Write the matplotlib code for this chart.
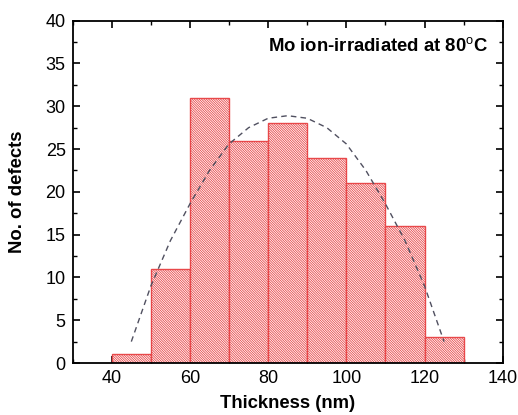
import matplotlib
matplotlib.use("Agg")
import matplotlib.pyplot as plt
from matplotlib.ticker import MultipleLocator

plt.rcParams['font.family'] = ['Liberation Sans', 'DejaVu Sans']
plt.rcParams['mathtext.fontset'] = 'custom'
plt.rcParams['mathtext.rm'] = 'Liberation Sans'
plt.rcParams['mathtext.bf'] = 'Liberation Sans:bold'
plt.rcParams['hatch.linewidth'] = 0.6
plt.rcParams['hatch.color'] = '#f3a8a8'

bin_left = [40, 50, 60, 70, 80, 90, 100, 110, 120]
counts = [1, 11, 31, 26, 28, 24, 21, 16, 3]
bin_width = 10

fit_x = [45, 50, 55, 60, 65, 70, 75, 80, 85, 90, 95, 100, 105, 110, 115, 120, 125]
fit_y = [2.5, 9.0, 14.3, 18.6, 22.5, 25.6, 27.5, 28.6, 28.9, 28.6, 27.5, 25.6, 22.5, 18.6, 14.3, 9.0, 2.5]

fig = plt.figure(figsize=(5.18, 4.15), dpi=100)
ax = fig.add_axes([0.1403, 0.1253, 0.8302, 0.8248])

ax.bar(bin_left, counts, width=bin_width, align='edge', facecolor='white',
       edgecolor='#e8484a', linewidth=1.0, hatch='\\' * 14, zorder=2)
ax.plot(fit_x, fit_y, linestyle=(0, (4, 3)), color='#505060', linewidth=1.0, zorder=3)

ax.set_xlim(30, 140)
ax.set_ylim(0, 40)
ax.xaxis.set_major_locator(MultipleLocator(20))
ax.xaxis.set_minor_locator(MultipleLocator(10))
ax.yaxis.set_major_locator(MultipleLocator(5))
ax.yaxis.set_minor_locator(MultipleLocator(2.5))
ax.tick_params(which='both', direction='in', top=True, right=True, labelsize=13)
ax.tick_params(which='major', length=5, width=1.2, pad=5)
ax.tick_params(which='minor', length=3, width=1.0)
for s in ax.spines.values():
    s.set_linewidth(1.3)

ax.set_xlabel('Thickness (nm)', fontsize=13.3, fontweight='bold', labelpad=6)
ax.set_ylabel('No. of defects', fontsize=13.3, fontweight='bold', labelpad=14)

ax.text(0.965, 0.925, r'Mo ion-irradiated at 80$^{\mathrm{o}}$C', transform=ax.transAxes,
        ha='right', va='center', fontsize=13.3, fontweight='bold')

fig.savefig('out.png', dpi=100)
